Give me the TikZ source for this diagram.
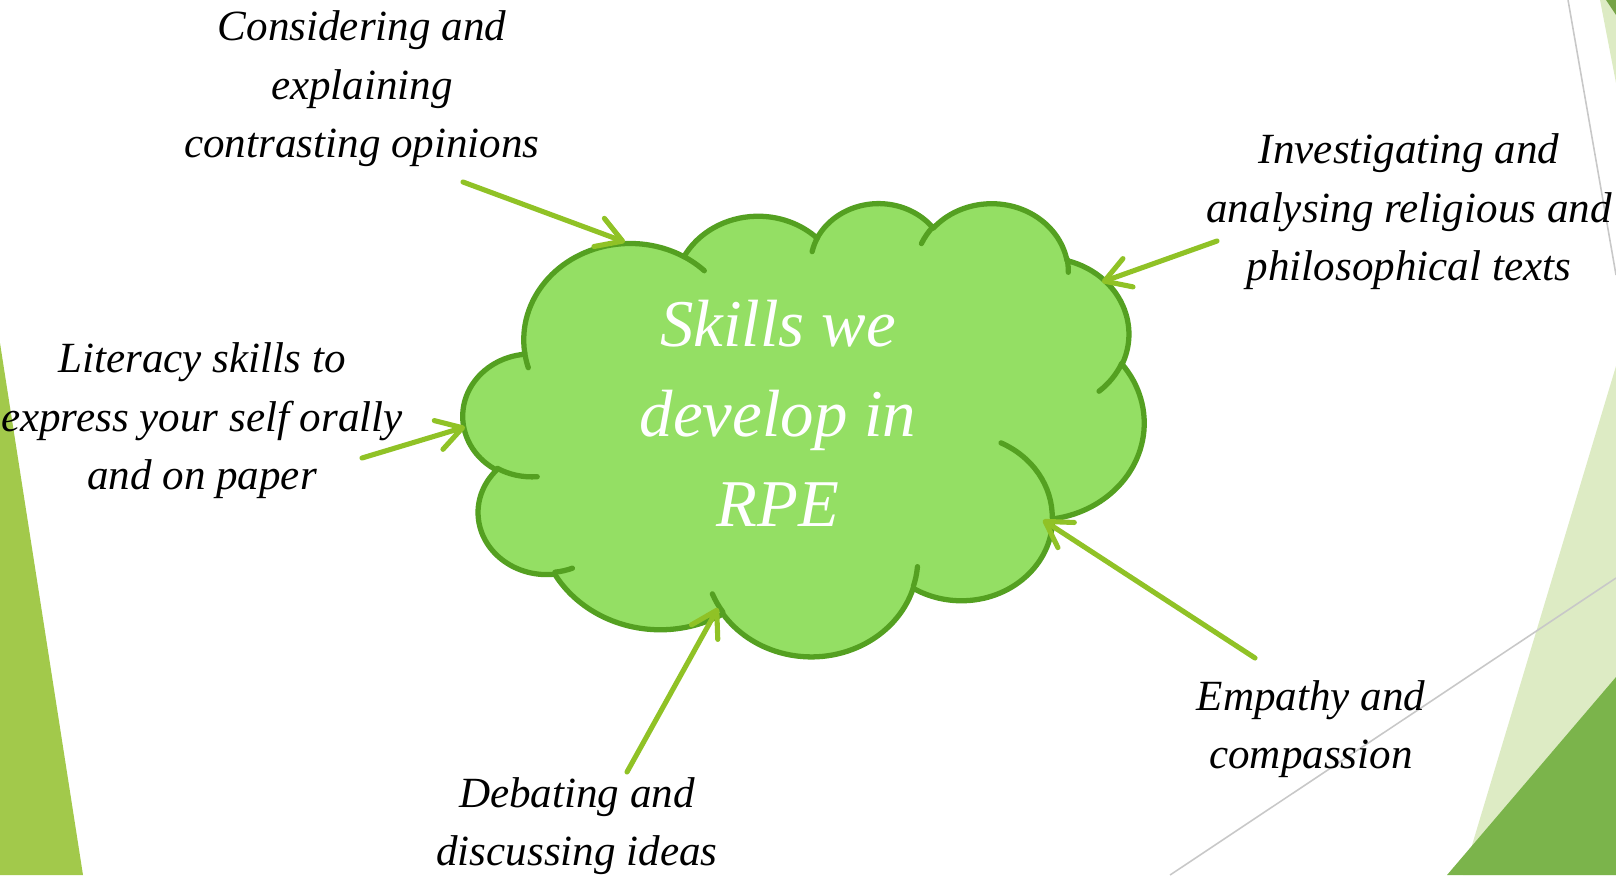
\documentclass[tikz,border=0pt]{standalone}
\usepackage{fontspec}
\setmainfont{Liberation Serif}
\usetikzlibrary{arrows.meta}
\definecolor{arrowgreen}{HTML}{90C226}
\definecolor{cloudfill}{HTML}{94DF64}
\definecolor{cloudline}{HTML}{54A021}
\definecolor{lefttri}{HTML}{A2C94B}
\definecolor{lightdeco}{HTML}{DDEBC4}
\definecolor{darkdeco}{HTML}{7BB44B}
\definecolor{olivedeco}{HTML}{76A346}
\definecolor{thingray}{HTML}{C8C8C8}
\makeatletter
% OOXML arcTo -> TikZ arc (visual angles to parametric angles)
\newcommand\ooprep[5]{%
  \pgfmathsetmacro\oo@a{atan2((#2)*sin(#4),(#3)*cos(#4))}%
  \pgfmathsetmacro\oo@b{atan2((#2)*sin(#4+(#5)),(#3)*cos(#4+(#5)))}%
  \pgfmathsetmacro\oo@d{\oo@b-\oo@a-360*round((\oo@b-\oo@a-(#5))/360)}%
  \expandafter\edef\csname oo#1\endcsname{arc[start angle=\oo@a, delta angle=\oo@d, x radius=#2, y radius=#3]}%
}
\makeatother
\ooprep{MA}{67.53}{91.90}{-190.4875}{123.7805}
\ooprep{MB}{53.33}{72.67}{-144.1024}{89.9452}
\ooprep{MC}{43.65}{59.45}{-145.8079}{99.7230}
\ooprep{MD}{48.57}{65.95}{-130.9861}{117.2417}
\ooprep{ME}{53.33}{72.73}{-78.7089}{109.0269}
\ooprep{MF}{67.75}{92.20}{-46.2673}{130.2690}
\ooprep{MG}{57.85}{78.67}{0.6250}{114.0333}
\ooprep{MH}{67.52}{92.15}{22.4516}{115.1726}
\ooprep{MI}{77.20}{105.43}{66.2426}{75.7110}
\ooprep{MJ}{43.60}{59.18}{-274.9421}{146.7356}
\ooprep{MK}{43.45}{59.45}{-246.8285}{152.5189}
\ooprep{SA}{43.45}{59.45}{86.7420}{26.4295}
\ooprep{SB}{43.60}{59.18}{73.6105}{11.4475}
\ooprep{SC}{67.52}{92.15}{137.6242}{14.0811}
\ooprep{SD}{67.52}{92.15}{6.4533}{15.9984}
\ooprep{SE}{57.85}{78.67}{-70.2924}{70.9174}
\ooprep{SF}{53.33}{72.73}{30.3180}{27.7515}
\ooprep{SG}{48.57}{65.95}{-13.7443}{14.8589}
\ooprep{SH}{48.57}{65.95}{-149.1815}{18.1954}
\ooprep{SI}{43.65}{59.45}{-163.4943}{17.6864}
\ooprep{SJ}{67.53}{91.90}{-66.7070}{12.3194}
\ooprep{SK}{67.53}{91.90}{157.6544}{11.8582}
\tikzset{
  lbl/.style={align=center, inner sep=0pt, text=black,
    font=\fontsize{12.25}{16.6}\selectfont\itshape},
  cloudtext/.style={align=center, inner sep=0pt, text=white,
    font=\fontsize{19}{25.6}\selectfont\itshape},
  arr/.style={draw=arrowgreen, line width=1.45pt, line cap=round,
    -{Straight Barb[round, length=0.25cm, width=0.3cm]}},
  cloudedge/.style={draw=cloudline, line width=1.5pt, line cap=round, line join=round},
  grayline/.style={draw=thingray, line width=0.45pt}
}
\begin{document}
\begin{tikzpicture}[x=0.01cm, y=-0.01cm]
\useasboundingbox (0,0) rectangle (1616,875);
\clip (0,0) rectangle (1616,875);
% background decorations
\fill[lefttri] (0,343) -- (83,875) -- (0,875) -- cycle;
\fill[lightdeco] (1616,366) -- (1616,875) -- (1463,875) -- cycle;
\fill[darkdeco] (1616,677) -- (1616,875) -- (1447,875) -- cycle;
\fill[lightdeco] (1600,0) -- (1616,0) -- (1616,83) -- cycle;
\fill[olivedeco] (1606,0) -- (1616,0) -- (1616,15) -- cycle;
\draw[grayline] (1568,0) -- (1616,275);
\draw[grayline] (1170,875) -- (1616,578);
% cloud
\begin{scope}[shift={(4.63cm,-2.02cm)}, x=0.015741cm, y=-0.0104861cm]
  \fill[cloudfill] (39.00,143.70) \ooMA \ooMB \ooMC \ooMD \ooME \ooMF \ooMG \ooMH \ooMI \ooMJ \ooMK -- cycle;
  \draw[cloudedge] (39.00,143.70) \ooMA \ooMB \ooMC \ooMD \ooME \ooMF \ooMG \ooMH \ooMI \ooMJ \ooMK -- cycle;
  \draw[cloudedge] (46.93,261.77) \ooSA (69.28,348.99) \ooSB (164.78,390.90) \ooSC
    (288.27,347.51) \ooSD (341.29,229.54) \ooSE (417.98,153.54) \ooSF
    (383.24,54.26) \ooSG (290.78,39.52) \ooSH (221.41,47.20) \ooSI
    (140.00,51.92) \ooSJ (41.27,157.89) \ooSK;
\end{scope}
\node[cloudtext] (skills) at (778,413) {Skills we\\develop in\\RPE};
% labels
\node[lbl] (consider) at (362,89) {Considering and\\explaining\\contrasting opinions};
\node[lbl] (investigate) at (1409,212) {Investigating and\\analysing religious and\\philosophical texts};
\node[lbl] (literacy) at (202,421) {Literacy skills to\\express your self orally\\and on paper};
\node[lbl] (debate) at (577,826) {Debating and\\discussing ideas};
\node[lbl] (empathy) at (1311,729) {Empathy and\\compassion};
% arrow end points
\coordinate (c1s) at (463,182); \coordinate (c1e) at (625,242);
\coordinate (c2s) at (1217,241); \coordinate (c2e) at (1102,282);
\coordinate (c3s) at (362,458); \coordinate (c3e) at (465,427);
\coordinate (c4s) at (627,772); \coordinate (c4e) at (718,608);
\coordinate (c5s) at (1255,658); \coordinate (c5e) at (1043,520);
\draw[arr] (c1s) -- (c1e);
\draw[arr] (c2s) -- (c2e);
\draw[arr] (c3s) -- (c3e);
\draw[arr] (c4s) -- (c4e);
\draw[arr] (c5s) -- (c5e);
\end{tikzpicture}
\end{document}
